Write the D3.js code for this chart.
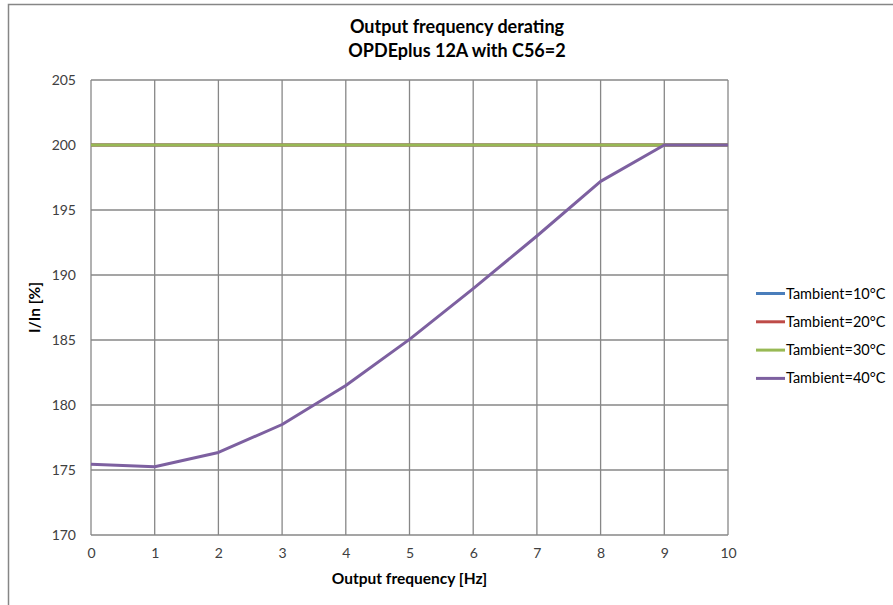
<!DOCTYPE html>
<html>
<head>
<meta charset="utf-8">
<script src="https://cdn.jsdelivr.net/npm/d3@7"></script>
<style>
  body { margin: 0; background: #fff; }
  svg text { font-family: Lato, "Open Sans", sans-serif; }
</style>
</head>
<body>
<div id="chart"></div>
<script>
// chart data
const frequency = [0, 1, 2, 3, 4, 5, 6, 7, 8, 9, 10];
const seriesNames = ["Tambient=10°C", "Tambient=20°C", "Tambient=30°C", "Tambient=40°C"];
const t10 = [200, 200, 200, 200, 200, 200, 200, 200, 200, 200, 200];
const t20 = [200, 200, 200, 200, 200, 200, 200, 200, 200, 200, 200];
const t30 = [200, 200, 200, 200, 200, 200, 200, 200, 200, 200, 200];
const t40 = [175.45, 175.25, 176.35, 178.5, 181.5, 185.05, 188.95, 193.0, 197.2, 200, 200];
const yTicks = [170, 175, 180, 185, 190, 195, 200, 205];
const xTicks = [0, 1, 2, 3, 4, 5, 6, 7, 8, 9, 10];
const seriesColors = ["#4a7ebb", "#be4b48", "#98b954", "#7d60a0"];

const width = 893, height = 605;
const plot = { left: 91, right: 728, top: 80, bottom: 535 };

const svg = d3.select("#chart").append("svg")
    .attr("width", width)
    .attr("height", height);

// outer chart frame (cut by the picture edge)
svg.append("rect")
    .attr("x", 8.5).attr("y", 4.5)
    .attr("width", width + 20).attr("height", height + 20)
    .attr("fill", "#fff")
    .attr("stroke", "#868686")
    .attr("stroke-width", 1.5);

const x = d3.scaleLinear().domain([0, 10]).range([plot.left, plot.right]);
const y = d3.scaleLinear().domain([170, 205]).range([plot.bottom, plot.top]);

// gridlines
svg.append("g")
    .selectAll("line")
    .data(yTicks)
    .enter().append("line")
    .attr("x1", plot.left).attr("x2", plot.right)
    .attr("y1", d => y(d)).attr("y2", d => y(d))
    .attr("stroke", "#878787")
    .attr("stroke-width", 1.3);

svg.append("g")
    .selectAll("line")
    .data(xTicks)
    .enter().append("line")
    .attr("y1", plot.top).attr("y2", plot.bottom)
    .attr("x1", d => x(d)).attr("x2", d => x(d))
    .attr("stroke", "#878787")
    .attr("stroke-width", 1.3);

// axes (labels only, lines come from the grid)
const yAxis = svg.append("g")
    .attr("transform", `translate(${plot.left},0)`)
    .call(d3.axisLeft(y).tickValues(yTicks).tickSize(0).tickPadding(15));
const xAxis = svg.append("g")
    .attr("transform", `translate(0,${plot.bottom})`)
    .call(d3.axisBottom(x).tickValues(xTicks).tickSize(0).tickPadding(13));
[yAxis, xAxis].forEach(a => {
    a.select(".domain").remove();
    a.selectAll("text")
        .attr("font-family", "Lato, sans-serif")
        .attr("font-size", "14px")
        .attr("fill", "#404040");
});

// series lines
const allSeries = [t10, t20, t30, t40];
const line = d3.line()
    .x((d, i) => x(frequency[i]))
    .y(d => y(d));

svg.append("g")
    .selectAll("path")
    .data(allSeries)
    .enter().append("path")
    .attr("d", d => line(d))
    .attr("fill", "none")
    .attr("stroke", (d, i) => seriesColors[i])
    .attr("stroke-width", 3)
    .attr("stroke-linejoin", "round");

// titles
svg.append("text")
    .attr("x", 457).attr("y", 33)
    .attr("text-anchor", "middle")
    .attr("font-size", "18px")
    .attr("font-weight", "bold")
    .attr("fill", "#000")
    .text("Output frequency derating");
svg.append("text")
    .attr("x", 457).attr("y", 57)
    .attr("text-anchor", "middle")
    .attr("font-size", "18px")
    .attr("font-weight", "bold")
    .attr("fill", "#000")
    .text("OPDEplus 12A with C56=2");

svg.append("text")
    .attr("x", (plot.left + plot.right) / 2).attr("y", 584)
    .attr("text-anchor", "middle")
    .attr("font-size", "15.5px")
    .attr("font-weight", "bold")
    .attr("fill", "#000")
    .text("Output frequency [Hz]");

svg.append("text")
    .attr("transform", `translate(40,${(plot.top + plot.bottom) / 2}) rotate(-90)`)
    .attr("text-anchor", "middle")
    .attr("font-size", "15.5px")
    .attr("font-weight", "bold")
    .attr("fill", "#000")
    .text("I/In [%]");

// legend
const legend = svg.append("g")
    .selectAll("g")
    .data(seriesNames)
    .enter().append("g")
    .attr("transform", (d, i) => `translate(756,${293.5 + i * 28.3})`);
legend.append("line")
    .attr("x1", 0).attr("x2", 29)
    .attr("stroke", (d, i) => seriesColors[i])
    .attr("stroke-width", 3);
legend.append("text")
    .attr("x", 30).attr("dy", "0.35em")
    .attr("font-size", "14.5px")
    .attr("fill", "#000")
    .text(d => d);
</script>
</body>
</html>
